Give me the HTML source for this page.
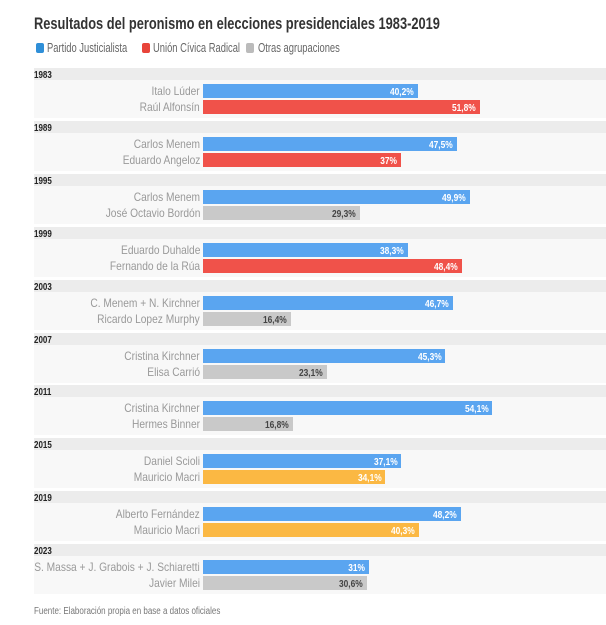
<!DOCTYPE html>
<html><head><meta charset="utf-8"><style>
body{margin:0;width:606px;height:625px;background:#fff;position:relative;overflow:hidden;font-family:"Liberation Sans",sans-serif}
.t{position:absolute;left:34px;top:14px;font-size:17px;font-weight:bold;color:#333;white-space:nowrap;transform:scaleX(0.755);transform-origin:left top}
.sq{position:absolute;top:43px;width:8px;height:10px;border-radius:2px}
.lg{position:absolute;top:41px;font-size:12.5px;color:#666;white-space:nowrap;transform:scaleX(0.75);transform-origin:left top}
.band{position:absolute;left:34px;width:572px;height:12px;background:#ececec;color:#222;line-height:12px}
.band span{display:inline-block;font-size:10px;font-weight:bold;transform:scaleX(0.8);transform-origin:left center}
.rowbg{position:absolute;left:34px;width:572px;height:38px;background:#f8f8f8}
.lab{position:absolute;right:406px;font-size:12px;color:#999;white-space:nowrap;line-height:14px;transform:scaleX(0.85);transform-origin:right center}
.bar{position:absolute;left:203px;height:14px;box-sizing:border-box;text-align:right;padding-right:4px;line-height:14px}
.bar span{display:inline-block;font-size:10.5px;font-weight:bold;transform:scaleX(0.8);transform-origin:right center}
.f{position:absolute;left:34px;top:606px;font-size:10px;color:#777;white-space:nowrap;transform:scaleX(0.8);transform-origin:left top}
</style></head><body>
<div class="t">Resultados del peronismo en elecciones presidenciales 1983-2019</div>
<div class="sq" style="left:36px;background:#2f8fd8"></div><div class="lg" style="left:47px">Partido Justicialista</div>
<div class="sq" style="left:142px;background:#e8443a"></div><div class="lg" style="left:153px">Unión Cívica Radical</div>
<div class="sq" style="left:246px;background:#bbb"></div><div class="lg" style="left:258px">Otras agrupaciones</div>
<div id="c"></div>
<div class="f">Fuente: Elaboración propia en base a datos oficiales</div>
<script>
var d=[["1983","Italo Lúder",40.2,"Raúl Alfonsín",51.8,"r"],["1989","Carlos Menem",47.5,"Eduardo Angeloz",37,"r"],["1995","Carlos Menem",49.9,"José Octavio Bordón",29.3,"g"],["1999","Eduardo Duhalde",38.3,"Fernando de la Rúa",48.4,"r"],["2003","C. Menem + N. Kirchner",46.7,"Ricardo Lopez Murphy",16.4,"g"],["2007","Cristina Kirchner",45.3,"Elisa Carrió",23.1,"g"],["2011","Cristina Kirchner",54.1,"Hermes Binner",16.8,"g"],["2015","Daniel Scioli",37.1,"Mauricio Macri",34.1,"o"],["2019","Alberto Fernández",48.2,"Mauricio Macri",40.3,"o"],["2023","S. Massa + J. Grabois + J. Schiaretti",31,"Javier Milei",30.6,"g"]];
var col={r:"#f0524a",g:"#c9c9c9",o:"#fbb843"},h="";
function fm(v){return String(v).replace(".",",")+"%";}
d.forEach(function(e,i){var y=68+i*52.9;
h+='<div class="rowbg" style="top:'+(y+12)+'px"></div>';
h+='<div class="band" style="top:'+y+'px"><span>'+e[0]+'</span></div>';
h+='<div class="lab" style="top:'+(y+16)+'px">'+e[1]+'</div>';
h+='<div class="lab" style="top:'+(y+32)+'px">'+e[3]+'</div>';
h+='<div class="bar" style="top:'+(y+16)+'px;width:'+(e[2]*5.35)+'px;background:#5aa5f0;color:#fff"><span>'+fm(e[2])+'</span></div>';
h+='<div class="bar" style="top:'+(y+32)+'px;width:'+(e[4]*5.35)+'px;background:'+col[e[5]]+';color:'+(e[5]=="g"?"#444":"#fff")+'"><span>'+fm(e[4])+'</span></div>';});
document.getElementById("c").innerHTML=h;
</script>
</body></html>
